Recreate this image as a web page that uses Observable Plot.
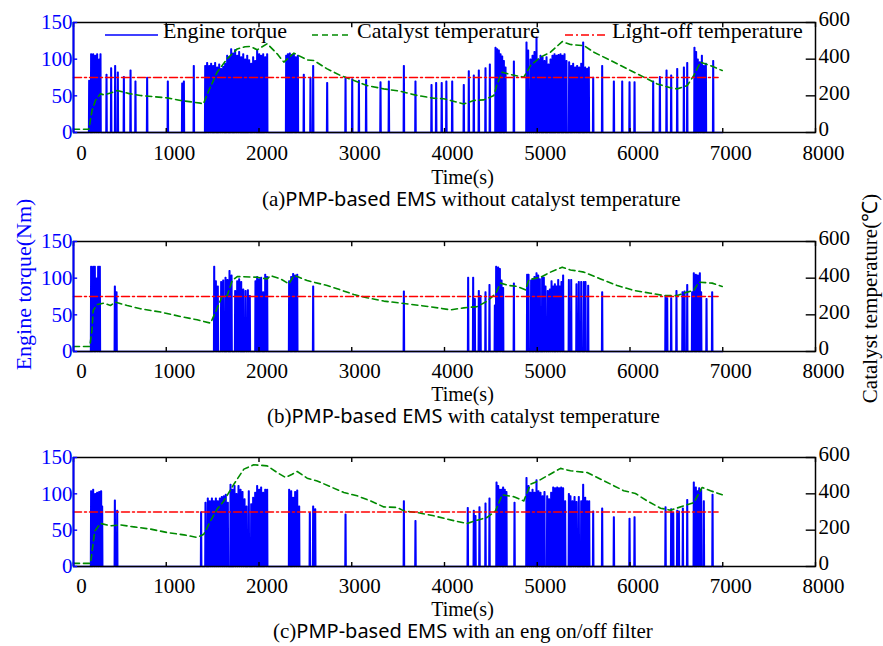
<!DOCTYPE html>
<html>
<head>
<meta charset="utf-8">
<script src="https://cdn.jsdelivr.net/npm/d3@7"></script>
<script src="https://cdn.jsdelivr.net/npm/@observablehq/plot@0.6"></script>
<style>
  body { margin: 0; background: #fff; }
  #fig { position: relative; width: 883px; height: 646px; overflow: hidden; background: #fff;
         font-family: "Liberation Serif", "Times New Roman", serif; }
  .panel { position: absolute; left: 0; }
  .panel svg { overflow: visible; }
  #overlay { position: absolute; left: 0; top: 0; pointer-events: none; }
</style>
</head>
<body>
<div id="fig">
  <div class="panel" id="pa" style="top:0px"></div>
  <div class="panel" id="pb" style="top:219px"></div>
  <div class="panel" id="pc" style="top:435px"></div>
  <svg id="overlay" width="883" height="646" xmlns="http://www.w3.org/2000/svg"></svg>
</div>
<script>
// ---------------- axis ticks ----------------
const xTicks = [0, 1000, 2000, 3000, 4000, 5000, 6000, 7000, 8000];
const torqueTicks = [0, 50, 100, 150];
const tempTicks = [0, 200, 400, 600];
const lightOffTemp = 300;        // °C
const lightOffSpan = [0, 6950];  // s

// ---------------- texts ----------------
const xLabel = "Time(s)";
const yLeftLabel = "Engine torque(Nm)";
const yRightLabel = "Catalyst temperature(℃)";
const legendLabels = ["Engine torque", "Catalyst temperature", "Light-off temperature"];
const captionTags = ["(a)", "(b)", "(c)"];
const captionSans = ["PMP-based EMS", "PMP-based EMS", "PMP-based EMS"];
const captionRest = [" without catalyst temperature", " with catalyst temperature", " with an eng on/off filter"];

// ---------------- panel (a): engine torque pulses ----------------
const pulseTimeA = [169,190,212,234,255,277,291, 356,406,449,478,543,615,668,794,1017,1172,1190,1297,
  1420,1441,1463,1484,1506,1527,1549,1571,1592,1614,1635,1657,1678,1700,1722,1743,1765,1786,1808,1830,1851,1873,1894,1916,1937,1959,1980,2002,2023,2045,2067,2088,
  2293,2311,2332,2354,2376,2397,2419,
  2483,2555,2584,2735,2933,3005,3077,3155,3310,3400,3562,3687,3860,3910,3970,4020,4083,4208,4262,4316,4370,4442,4489,
  4550,4568,4586,4604,4622,4640,4658,
  4748,
  4884,4902,4927,4949,4970,4992,5013,5035,5057,5078,5100,5121,5143,5164,5186,5208,5229,5251,5272,5294,5315,
  5344,5366,5387,5409,5430,5452,5474,5495,5517,5538,5556,
  5603,5700,5826,5916,5995,6049,6250,6322,6394,6444,6509,6581,6617,
  6695,6713,6731,6753,6775,6796,6818,6897];
const pulseTorqueA = [71,107,107,105,107,100,107, 79,88,91,82,76,85,70,75,70,67,70,91,
  91,95,91,94,91,95,89,93,87,90,94,105,103,114,108,113,105,110,103,107,100,105,99,94,103,98,112,107,105,107,103,107,
  105,107,108,106,107,103,105,
  79,75,91,68,75,73,71,72,69,70,91,70,65,68,68,70,70,65,84,78,85,88,93,
  116,114,112,107,104,98,89,
  97,
  123,112,100,105,110,130,100,105,103,98,103,93,100,105,107,105,106,107,105,107,98,
  96,91,94,89,91,89,94,123,89,87,89,
  75,91,70,70,69,69,70,76,85,78,87,89,95,
  116,110,100,96,105,91,94,98];
// panel (a): catalyst temperature
const tempTimeA = [0,165,200,237,291,330,400,471,600,722,1010,1154,1369,1400,1459,1549,1657,1765,1850,1908,1980,2088,2196,2268,2376,2519,2591,2735,2879,3023,3166,3346,3526,3705,3885,3993,4065,4208,4316,4424,4532,4568,4622,4712,4855,4927,5035,5143,5269,5358,5502,5610,5790,6005,6149,6293,6437,6509,6617,6688,6760,6868,6994];
const tempValA  = [18,18,120,175,211,205,215,229,212,202,189,175,160,156,229,329,402,456,468,469,451,484,429,384,433,396,393,347,311,284,256,238,225,202,187,184,175,156,175,178,202,265,329,316,302,365,411,438,496,480,474,438,393,338,302,265,244,238,256,311,384,365,338];

// ---------------- panel (b) ----------------
const pulseTimeB = [190,212,230,248,266,284, 446,464,
  1517,1535,1556,1592,1614,1639,1660,1682,1704,1743,1765,1786,1808,1830,1855,1880,1901,1962,1980,2002,2023,2045,2067,2088,
  2325,2347,2368,2390,2412,
  2584,3562,
  4255,4309,4327,4370,4388,4442,4485,4543,4557,4579,4597,4615,4632,4748,
  4891,4906,4934,4952,4970,4992,5010,5028,5053,5071,5089,5114,5136,5154,5172,5190,5208,5226,5243,5261,5279,5341,5366,
  5423,5448,5474,5502,5520,5549,5700,
  6383,6401,6444,6501,6566,6588,6617,6670,6688,6710,6731,6753,6767,6825,6886];
const pulseTorqueB = [116,116,116,100,116,116, 89,81,
  116,96,89,95,97,101,98,110,104,83,96,99,95,85,83,84,76,96,102,99,101,81,105,102,
  96,102,106,104,105,
  89,82,
  101,101,72,83,76,81,91,63,116,115,113,97,87,93,
  105,105,97,99,102,107,104,99,102,101,89,83,85,96,89,92,89,98,89,95,104,98,98,
  92,95,95,95,95,90,81,
  76,73,73,83,81,82,91,81,107,105,104,107,81,72,81];
const tempTimeB = [0,176,200,212,255,327,399,453,579,722,938,1154,1333,1477,1531,1603,1657,1711,1765,1980,2088,2124,2232,2322,2376,2412,2519,2591,2735,2879,3023,3166,3346,3526,3741,3957,4065,4208,4352,4460,4550,4604,4694,4783,4873,4909,5035,5143,5269,5358,5502,5682,5862,6041,6221,6365,6509,6617,6688,6742,6886,6994];
const tempValB  = [27,27,120,224,256,264,251,269,251,233,215,191,173,155,215,300,305,387,409,405,396,414,396,369,414,409,387,378,360,336,311,293,275,264,251,236,227,238,245,275,315,373,360,355,336,391,405,433,460,445,433,396,360,333,318,305,305,324,333,378,373,355];

// ---------------- panel (c) ----------------
const pulseTimeC = [190,212,234,255,277,298,309,
  446,471,
  1376,1423,1448,1470,1492,1513,1535,1556,1578,1599,1621,1642,1664,
  1693,1714,1736,1757,1779,1801,1822,1844,1865,1890,1916,1937,1959,1980,2002,2023,2045,2067,2088,
  2325,2347,2368,2390,2412,2433,
  2548,2584,2606,2933,3562,3687,
  4251,4316,4334,4377,4442,4485,
  4561,4579,4597,4615,4632,4650,4668,4755,
  4884,4906,4927,4949,4970,4992,5013,5035,5057,5078,5107,5128,5150,5172,5193,5215,5236,5258,5279,5301,
  5341,5358,5380,5402,5423,5448,5474,5495,5517,5538,5560,
  5603,5700,5826,5995,6049,
  6383,6444,6466,6509,6527,6570,6617,
  6688,6710,6731,6746,6767,6796,6890];
const pulseTorqueC = [104,106,100,102,103,104,83,
  91,77,
  75,88,94,90,94,90,94,90,94,96,97,99,88,
  113,106,111,100,111,106,103,93,83,104,86,95,102,111,106,109,102,106,106,
  106,104,95,103,105,83,
  74,83,79,72,90,63,
  81,77,70,82,87,94,
  116,111,106,106,109,106,103,88,
  122,111,102,106,102,119,104,102,97,103,97,93,102,109,108,109,108,109,108,90,
  100,97,90,96,89,96,90,113,95,90,90,
  76,80,68,66,68,
  82,79,74,77,76,80,92,
  116,109,104,108,106,90,99];
const tempTimeC = [0,183,230,291,399,507,651,830,1010,1190,1333,1405,1477,1549,1621,1729,1837,1944,2088,2196,2286,2358,2412,2519,2627,2771,2915,3058,3202,3346,3490,3562,3705,3885,4029,4136,4244,4352,4460,4550,4622,4748,4855,4927,4999,5107,5251,5358,5538,5718,5933,6059,6185,6329,6437,6581,6688,6778,6868,6994];
const tempValC  = [17,17,196,237,224,229,218,206,187,174,160,178,251,316,361,453,536,560,554,517,490,508,523,486,471,439,407,389,361,328,325,306,297,279,261,248,237,255,270,306,395,384,361,453,468,499,540,527,517,472,417,402,361,321,310,334,352,435,417,395];

// ---------------- styling ----------------
const BLUE = "#0000ff", GREEN = "#008a00", RED = "#ff0000";
const FONT = "'Liberation Serif', 'Times New Roman', serif";
const TEMP_PER_NM = 4; // right axis 0..600 °C maps onto left axis 0..150 Nm
const fmt = d3.format("d");

function pulseLine(times, values) {
  const pts = [{t: 0, q: 0}];
  times.forEach((t, i) => {
    pts.push({t: t - 6, q: 0}, {t: t - 3, q: values[i]}, {t: t + 3, q: values[i]}, {t: t + 6, q: 0});
  });
  pts.push({t: 7000, q: 0});
  return pts;
}

function panel(pTimes, pVals, tTimes, tVals, opts) {
  const torque = pulseLine(pTimes, pVals);
  const temp = tTimes.map((t, i) => ({t, c: tVals[i]}));
  const lightOff = lightOffSpan.map(t => ({t, c: lightOffTemp}));
  const marks = [
    Plot.line(torque, {x: "t", y: "q", stroke: BLUE, strokeWidth: 1.5}),
    Plot.line(temp, {x: "t", y: d => d.c / TEMP_PER_NM, stroke: GREEN, strokeWidth: 1.6, strokeDasharray: "6,4"}),
    Plot.line(lightOff, {x: "t", y: d => d.c / TEMP_PER_NM, stroke: RED, strokeWidth: 1.5, strokeDasharray: "8,3,2,3"}),
    Plot.frame({stroke: "black", strokeWidth: 1.5}),
    // inward tick marks (MATLAB style)
    Plot.ruleX(xTicks, {x: d => d, y1: 0, y2: 5.5, stroke: "black", strokeWidth: 1.4}),
    Plot.ruleX(xTicks, {x: d => d, y1: 150, y2: 143, stroke: "black", strokeWidth: 1.4}),
    Plot.ruleY(torqueTicks, {y: d => d, x1: 0, x2: 45, stroke: BLUE, strokeWidth: 1.4}),
    Plot.ruleY(tempTicks, {y: d => d / TEMP_PER_NM, x1: 8000, x2: 7900, stroke: "black", strokeWidth: 1.4}),
    Plot.ruleX([0], {stroke: BLUE, strokeWidth: 2}),
    Plot.axisX({ticks: xTicks, tickFormat: fmt, tickSize: 0, tickPadding: opts.tickPad, dx: 8, label: null, fontSize: 21, fill: "black"}),
    Plot.axisY({anchor: "left", ticks: torqueTicks, tickFormat: fmt, tickSize: 0, tickPadding: 1, label: null, fontSize: 21, fill: BLUE}),
    Plot.axisY({anchor: "right", ticks: tempTicks.map(c => c / TEMP_PER_NM), tickFormat: d => fmt(d * TEMP_PER_NM),
                tickSize: 0, tickPadding: 3, dy: -3, label: null, fontSize: 21, fill: "black"}),
    Plot.text([xLabel], {text: d => d, frameAnchor: "bottom", dx: 18, dy: opts.timeDy, lineAnchor: "middle",
                         textAnchor: "middle", fontSize: 20, fill: "black"})
  ];
  if (opts.yLabels) {
    marks.push(
      Plot.text([yLeftLabel], {text: d => d, frameAnchor: "left", rotate: -90, dx: -50, dy: -12,
                               lineAnchor: "middle", textAnchor: "middle", fontSize: 22, fill: BLUE}),
      Plot.text([yRightLabel], {text: d => d, frameAnchor: "right", rotate: -90, dx: 55, dy: 2,
                                lineAnchor: "middle", textAnchor: "middle", fontSize: 21, fill: "black"})
    );
  }
  return Plot.plot({
    width: 883, height: 22 + opts.plotH + 60,
    marginLeft: 73, marginRight: 68, marginTop: 22, marginBottom: 60,
    x: {domain: [0, 8000], label: null},
    y: {domain: [0, 150], label: null},
    style: {fontFamily: FONT, fontSize: "21px", background: "transparent", color: "black", overflow: "visible"},
    marks
  });
}

document.getElementById("pa").append(panel(pulseTimeA, pulseTorqueA, tempTimeA, tempValA, {plotH: 110, timeDy: 45, tickPad: 13}));
document.getElementById("pb").append(panel(pulseTimeB, pulseTorqueB, tempTimeB, tempValB, {plotH: 110, timeDy: 43, tickPad: 12, yLabels: true}));
document.getElementById("pc").append(panel(pulseTimeC, pulseTorqueC, tempTimeC, tempValC, {plotH: 109, timeDy: 43, tickPad: 12}));

// ---------------- legend (panel a) and captions ----------------
const NS = "http://www.w3.org/2000/svg";
const ov = document.getElementById("overlay");
function el(name, attrs, parent) {
  const e = document.createElementNS(NS, name);
  for (const k in attrs) e.setAttribute(k, attrs[k]);
  (parent || ov).appendChild(e);
  return e;
}
const legendItems = [
  {x1: 105, x2: 158, tx: 163, stroke: BLUE, dash: null, w: 1.6},
  {x1: 312, x2: 352, tx: 357, stroke: GREEN, dash: "6,4", w: 1.6},
  {x1: 565, x2: 608, tx: 612, stroke: RED, dash: "8,3,2,3", w: 1.5}
];
legendItems.forEach((it, i) => {
  const ln = el("line", {x1: it.x1, x2: it.x2, y1: 35, y2: 35, stroke: it.stroke, "stroke-width": it.w});
  if (it.dash) ln.setAttribute("stroke-dasharray", it.dash);
  const t = el("text", {x: it.tx, y: 38, "font-family": FONT, "font-size": 22, fill: "black"});
  t.textContent = legendLabels[i];
});
const capPos = [{x: 262, y: 206}, {x: 267, y: 423}, {x: 273, y: 638}];
capPos.forEach((p, i) => {
  const t = el("text", {x: p.x, y: p.y, "font-family": FONT, "font-size": 21, fill: "black"});
  const a = el("tspan", {}, t); a.textContent = captionTags[i];
  const b = el("tspan", {"font-family": "'Noto Sans', 'Open Sans', sans-serif", "font-size": 20}, t); b.textContent = captionSans[i];
  const c = el("tspan", {}, t); c.textContent = captionRest[i];
});
</script>
</body>
</html>
